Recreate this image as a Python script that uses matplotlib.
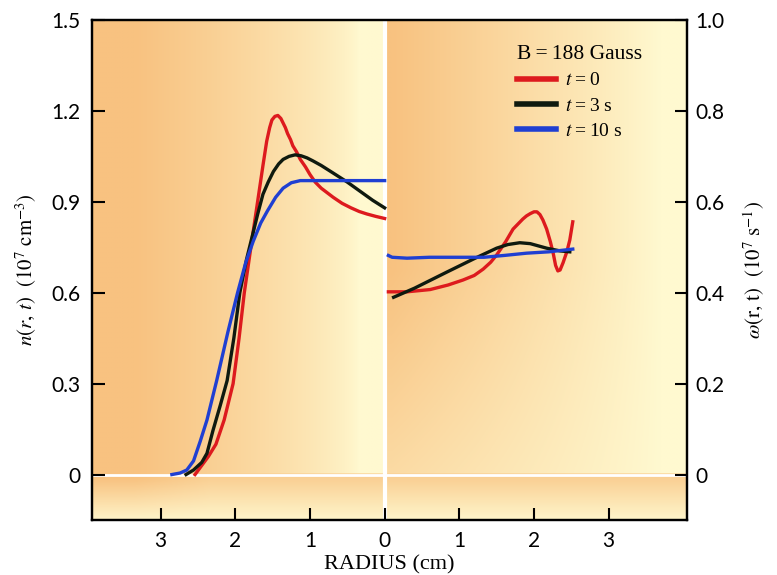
import numpy as np
import matplotlib
matplotlib.use("Agg")
import matplotlib.pyplot as plt

plt.rcParams['font.family'] = ['Liberation Serif', 'DejaVu Serif']
plt.rcParams['mathtext.fontset'] = 'stix'

# ---------------------------
# Data
# ---------------------------

# density n(r,t), left panel, radius in cm
red_n_r = [2.54, 2.45, 2.36, 2.26, 2.15, 2.03, 1.95, 1.88, 1.78, 1.69, 1.63, 1.58,
           1.54, 1.51, 1.47, 1.43, 1.39, 1.36, 1.33, 1.30, 1.26, 1.23, 1.18, 1.13,
           1.06, 1.00, 0.93, 0.85, 0.77, 0.69, 0.57, 0.45, 0.34, 0.24, 0.12, 0.0]
red_n = [0.0, 0.03, 0.06, 0.10, 0.18, 0.30, 0.45, 0.60, 0.77, 0.92, 1.02, 1.10,
         1.145, 1.17, 1.182, 1.185, 1.175, 1.16, 1.145, 1.125, 1.105, 1.085, 1.065, 1.04,
         1.015, 0.99, 0.965, 0.945, 0.93, 0.915, 0.895, 0.88, 0.868, 0.86, 0.852, 0.845]

black_n_r = [2.66, 2.56, 2.45, 2.38, 2.30, 2.20, 2.11, 2.02, 1.94, 1.85, 1.76, 1.70,
             1.63, 1.56, 1.49, 1.42, 1.36, 1.28, 1.20, 1.12, 1.04, 0.96, 0.85, 0.69,
             0.50, 0.33, 0.16, 0.0]
black_n = [0.0, 0.015, 0.04, 0.07, 0.145, 0.23, 0.31, 0.45, 0.60, 0.71, 0.80, 0.86,
           0.925, 0.965, 1.00, 1.025, 1.04, 1.05, 1.055, 1.052, 1.045, 1.035, 1.02, 0.995,
           0.965, 0.935, 0.905, 0.88]

blue_n_r = [2.85, 2.74, 2.65, 2.56, 2.47, 2.38, 2.25, 2.10, 1.97, 1.86, 1.76, 1.66,
            1.57, 1.46, 1.36, 1.25, 1.13, 0.90, 0.50, 0.0]
blue_n = [0.0, 0.005, 0.015, 0.045, 0.11, 0.18, 0.31, 0.47, 0.60, 0.70, 0.77, 0.83,
          0.87, 0.915, 0.945, 0.963, 0.97, 0.97, 0.97, 0.97]

# angular velocity omega(r,t), right panel
red_w_r = [0.05, 0.3, 0.61, 0.85, 1.05, 1.2, 1.32, 1.42, 1.5, 1.62, 1.72, 1.85, 1.90,
           1.95, 2.0, 2.04, 2.08, 2.12, 2.17, 2.22, 2.26, 2.29, 2.32, 2.35, 2.39,
           2.44, 2.48, 2.52]
red_w = [0.402, 0.402, 0.407, 0.417, 0.428, 0.438, 0.452, 0.467, 0.483, 0.512, 0.54,
         0.562, 0.569, 0.574, 0.578, 0.578, 0.572, 0.56, 0.54, 0.512, 0.485, 0.46,
         0.448, 0.45, 0.466, 0.49, 0.516, 0.556]

black_w_r = [0.12, 0.4, 0.84, 1.2, 1.5, 1.65, 1.81, 1.95, 2.17, 2.35, 2.48]
black_w = [0.39, 0.41, 0.446, 0.475, 0.498, 0.506, 0.51, 0.508, 0.498, 0.492, 0.49]

blue_w_r = [0.05, 0.1, 0.3, 0.6, 1.0, 1.33, 1.6, 1.9, 2.2, 2.52]
blue_w = [0.482, 0.478, 0.476, 0.478, 0.478, 0.478, 0.482, 0.487, 0.49, 0.496]

labels = ["$t$\u2009=\u20090", "$t$\u2009=\u20093 s", "$t$\u2009=\u200910 s"]
colors = ['#dd1a1e', '#0f1a0f', '#1f3fd2']

n_ticks = [0, 0.3, 0.6, 0.9, 1.2, 1.5]
n_ticklabels = ['0', '0.3', '0.6', '0.9', '1.2', '1.5']
w_ticks = [0, 0.2, 0.4, 0.6, 0.8, 1.0]
w_ticklabels = ['0', '0.2', '0.4', '0.6', '0.8', '1.0']
r_ticks = [-3, -2, -1, 0, 1, 2, 3]
r_ticklabels = ['3', '2', '1', '0', '1', '2', '3']

xmin, xmax = -3.92, 4.05
nmin, nmax = -0.15, 1.5
wmin, wmax = -0.1, 1.0

# ---------------------------
# Figure
# ---------------------------

fig = plt.figure(figsize=(7.77, 5.75), dpi=100)
ax = fig.add_axes([92/777, 1 - 520/575, (687 - 92)/777, (520 - 20)/575])
ax2 = ax.twinx()

# background shading
xs = np.linspace(xmin, xmax, 400)
ys = np.linspace(nmin, nmax, 300)
X, Y = np.meshgrid(xs, ys)
w_left = np.clip((-X - 0.35) / 3.0, 0, 1) ** 0.7
w_right = np.clip(1 - (X - 0.1) / 3.6, 0, 1) ** 0.9 * np.clip(0.55 + Y / 1.5, 0, 1)
w = np.where(X < 0, w_left, w_right)
strip = Y < 0
w = np.where(strip, np.maximum(w, 0.75) * np.clip((Y - nmin) / (-nmin) + 0.1, 0, 1), w)
orange = np.array([248, 194, 128]) / 255
pale = np.array([255, 249, 208]) / 255
img = pale[None, None, :] + (orange - pale)[None, None, :] * w[:, :, None]
ax.imshow(img, extent=[xmin, xmax, nmin, nmax], origin='lower', aspect='auto', zorder=0)

ax.axvline(0, color='white', lw=3, zorder=1)
ax.axhline(0, color='white', lw=2, zorder=1)

for rr, vv, c in zip([red_n_r, black_n_r, blue_n_r], [red_n, black_n, blue_n], colors):
    ax.plot(-np.array(rr), vv, color=c, lw=2.4, zorder=3, solid_joinstyle='round')

handles = []
for rr, vv, c, lab in zip([red_w_r, black_w_r, blue_w_r], [red_w, black_w, blue_w], colors, labels):
    ax2.plot(rr, vv, color=c, lw=2.4, zorder=3, solid_joinstyle='round')
    h, = ax2.plot([], [], color=c, lw=4, label=lab)
    handles.append(h)

ax.set_xlim(xmin, xmax)
ax.set_ylim(nmin, nmax)
ax2.set_ylim(wmin, wmax)

ax.set_xticks(r_ticks)
ax.set_xticklabels(r_ticklabels)
ax.set_yticks(n_ticks)
ax.set_yticklabels(n_ticklabels)
ax2.set_yticks(w_ticks)
ax2.set_yticklabels(w_ticklabels)

for a in (ax, ax2):
    a.tick_params(direction='in', length=9, width=1.5, labelsize=15, pad=8)
    for s in a.spines.values():
        s.set_linewidth(1.6)
    for lab in a.get_xticklabels() + a.get_yticklabels():
        lab.set_family(['Lato', 'DejaVu Sans'])
ax2.tick_params(axis='y', pad=6)

ax.set_xlabel("RADIUS (cm)", fontsize=16, labelpad=3)
ax.set_ylabel(r"$n(r,\,t)$  $(10^7\ \mathrm{cm}^{-3})$", fontsize=15, labelpad=9)
ax2.set_ylabel(r"$\omega(\mathrm{r},\,\mathrm{t})$  $(10^7\ \mathrm{s}^{-1})$", fontsize=15,
               labelpad=12)

leg = ax2.legend(handles=handles, title="B\u2009=\u2009188 Gauss", loc='upper left',
                 bbox_to_anchor=(0.685, 0.985), frameon=False, fontsize=14,
                 title_fontsize=15.5, handlelength=2.0, handletextpad=0.45,
                 labelspacing=0.4, alignment='left')

fig.savefig("out.png", dpi=100)
